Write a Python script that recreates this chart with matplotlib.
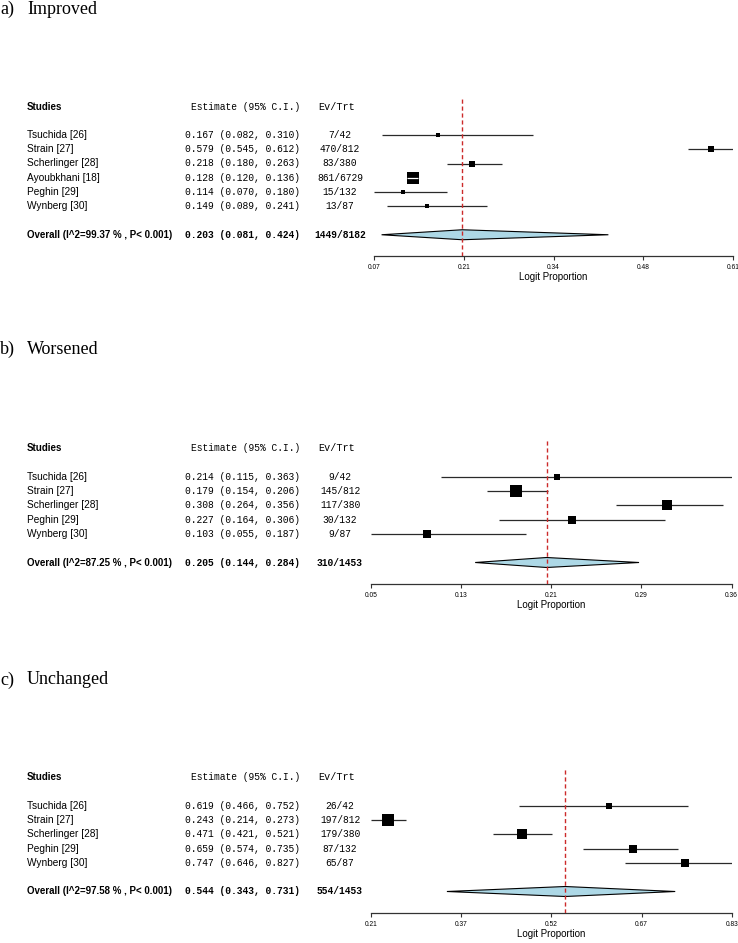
import numpy as np
import matplotlib
matplotlib.use("Agg")
import matplotlib.pyplot as plt
import matplotlib.transforms as mtrans
from matplotlib.patches import Polygon

W, H = 738, 943

# ---- data -------------------------------------------------------------
studies_a = ["Tsuchida [26]", "Strain [27]", "Scherlinger [28]", "Ayoubkhani [18]", "Peghin [29]", "Wynberg [30]"]
est_a = [0.167, 0.579, 0.218, 0.128, 0.114, 0.149]
lo_a = [0.082, 0.545, 0.180, 0.120, 0.070, 0.089]
hi_a = [0.310, 0.612, 0.263, 0.136, 0.180, 0.241]
evtrt_a = ["7/42", "470/812", "83/380", "861/6729", "15/132", "13/87"]
wt_a = [5.7, 14.8, 12.7, 50.9, 8.8, 7.1]
overall_a = (0.203, 0.081, 0.424, "1449/8182", "99.37")
ticks_a = ["0.07", "0.21", "0.34", "0.48", "0.61"]

studies_b = ["Tsuchida [26]", "Strain [27]", "Scherlinger [28]", "Peghin [29]", "Wynberg [30]"]
est_b = [0.214, 0.179, 0.308, 0.227, 0.103]
lo_b = [0.115, 0.154, 0.264, 0.164, 0.055]
hi_b = [0.363, 0.206, 0.356, 0.306, 0.187]
evtrt_b = ["9/42", "145/812", "117/380", "30/132", "9/87"]
wt_b = [9.4, 37.7, 23.6, 14.7, 14.7]
overall_b = (0.205, 0.144, 0.284, "310/1453", "87.25")
ticks_b = ["0.05", "0.13", "0.21", "0.29", "0.36"]

studies_c = ["Tsuchida [26]", "Strain [27]", "Scherlinger [28]", "Peghin [29]", "Wynberg [30]"]
est_c = [0.619, 0.243, 0.471, 0.659, 0.747]
lo_c = [0.466, 0.214, 0.421, 0.574, 0.646]
hi_c = [0.752, 0.273, 0.521, 0.735, 0.827]
evtrt_c = ["26/42", "197/812", "179/380", "87/132", "65/87"]
wt_c = [9.6, 38.4, 24.0, 14.9, 13.1]
overall_c = (0.544, 0.343, 0.731, "554/1453", "97.58")
ticks_c = ["0.21", "0.37", "0.52", "0.67", "0.83"]

# ---- layout -----------------------------------------------------------
DY = 14.25
SANS = "Liberation Sans"
MONO = "Liberation Mono"
SERIF = "Liberation Serif"

fig = plt.figure(figsize=(W / 100, H / 100), dpi=100)


def forest(tag, title, title_y, y0, left, right, studies, est, lo, hi, evtrt, wt, overall, ticklabels):
    n = len(studies)
    fig.text(0 / W, 1 - title_y / H, tag, family=SERIF, fontsize=13, va="center", ha="left")
    fig.text(27 / W, 1 - title_y / H, title, family=SERIF, fontsize=13, va="center", ha="left")

    top = y0 - 2.7 * DY
    bot = y0 + (n + 2.5) * DY
    ax = fig.add_axes([left / W, 1 - bot / H, (right - left) / W, (bot - top) / H])
    xmin, xmax = min(lo), max(hi)
    ax.set_xlim(xmin, xmax)
    ax.set_ylim(n + 2.5, -2.7)
    for s in ["top", "right", "left"]:
        ax.spines[s].set_visible(False)
    ax.spines["bottom"].set_linewidth(0.9)
    ax.spines["bottom"].set_color("#333333")
    ax.set_yticks([])
    ax.set_xticks(np.linspace(xmin, xmax, 5))
    ax.set_xticklabels(ticklabels, family=SANS, fontsize=4.8)
    ax.tick_params(axis="x", length=3, width=0.8, pad=2.5, color="#333333")
    ax.set_xlabel("Logit Proportion", family=SANS, fontsize=7, labelpad=1)

    trans = mtrans.blended_transform_factory(fig.transFigure, ax.transData)
    px_per_unit = (right - left) / (xmax - xmin)

    # header
    ax.text(27 / W, -2, "Studies", transform=trans, family=SANS, weight="bold", fontsize=7, va="center")
    ax.text(300 / W, -2, "Estimate (95% C.I.)", transform=trans, family=MONO, fontsize=6.9, va="center", ha="right")
    ax.text(337 / W, -2, "Ev/Trt", transform=trans, family=MONO, fontsize=7.3, va="center", ha="center")

    wmax = max(wt)
    for i in range(n):
        ax.text(27 / W, i, studies[i], transform=trans, family=SANS, fontsize=7.3, va="center")
        ax.text(300 / W, i, "%.3f (%.3f, %.3f)" % (est[i], lo[i], hi[i]), transform=trans,
                family=MONO, fontsize=6.9, va="center", ha="right")
        ax.text(340 / W, i, evtrt[i], transform=trans, family=MONO, fontsize=6.9, va="center", ha="center")
        side = 12 * np.sqrt(wt[i] / wmax)
        ax.plot([lo[i], hi[i]], [i, i], color="#2a2a2a", lw=0.9, solid_capstyle="butt", zorder=2)
        ax.plot([est[i]], [i], marker="s", ms=side * 0.72, color="black", mew=0, zorder=3)
        if (hi[i] - lo[i]) * px_per_unit < side:
            # CI shorter than the box: drawn in white on top
            ax.plot([lo[i], hi[i]], [i, i], color="white", lw=0.9, solid_capstyle="butt", zorder=4)

    oe, ol, oh, oev, i2 = overall
    yo = n + 1
    ax.text(27 / W, yo, "Overall (I^2=%s %% , P< 0.001)" % i2, transform=trans, family=SANS,
            weight="bold", fontsize=7, va="center")
    ax.text(300 / W, yo, "%.3f (%.3f, %.3f)" % (oe, ol, oh), transform=trans, family=MONO,
            weight="bold", fontsize=6.9, va="center", ha="right")
    ax.text(340 / W, yo, oev, transform=trans, family=MONO, weight="bold", fontsize=6.9,
            va="center", ha="center")
    h = 5 / DY
    dia = Polygon([[ol, yo], [oe, yo - h], [oh, yo], [oe, yo + h]], closed=True,
                  facecolor="#add8e6", edgecolor="black", lw=0.8, zorder=2)
    ax.add_patch(dia)
    ax.axvline(oe, color="#cc2a2a", lw=1.0, ls=(0, (3, 2)), zorder=5)
    return ax


forest("a)", "Improved", 9.5, 135, 374.3, 732.7, studies_a, est_a, lo_a, hi_a, evtrt_a, wt_a, overall_a, ticks_a)
forest("b)", "Worsened", 349, 477, 371, 731.5, studies_b, est_b, lo_b, hi_b, evtrt_b, wt_b, overall_b, ticks_b)
forest("c)", "Unchanged", 680, 806, 371, 731.7, studies_c, est_c, lo_c, hi_c, evtrt_c, wt_c, overall_c, ticks_c)

fig.savefig("out.png", dpi=100)
